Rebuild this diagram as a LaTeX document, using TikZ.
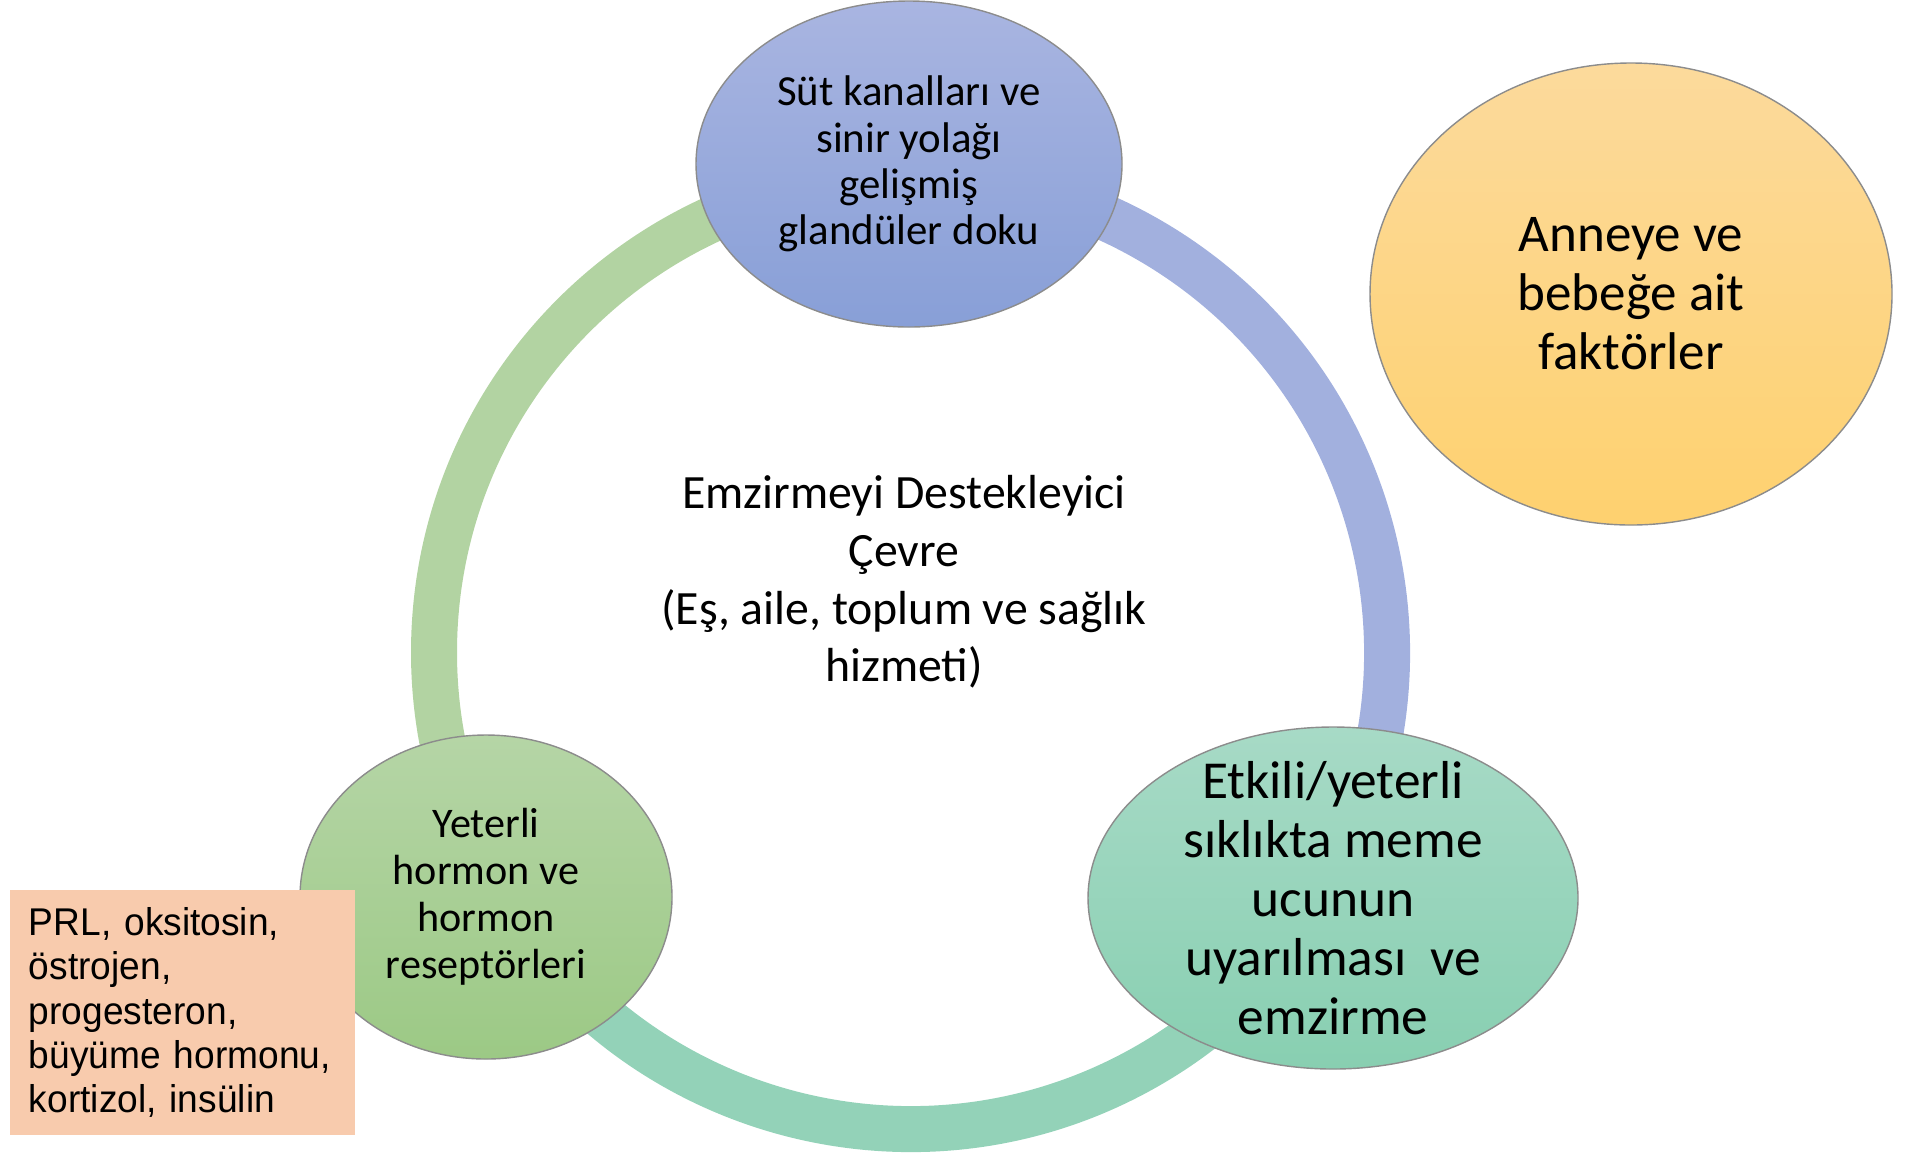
\documentclass[tikz,border=0pt]{standalone}
\usepackage{fontspec}
\setmainfont{Carlito}
\newfontfamily\arialfont[FakeStretch=0.96]{Liberation Sans}
\usepackage{tikz}
\usetikzlibrary{shapes.geometric}
\definecolor{ringgreen}{HTML}{B2D3A2}
\definecolor{ringblue}{HTML}{A2B0DE}
\definecolor{ringteal}{HTML}{93D2B8}
\definecolor{glandtop}{HTML}{A9B5E1}
\definecolor{glandbottom}{HTML}{889FD7}
\definecolor{hormonetop}{HTML}{B5D5A6}
\definecolor{hormonebottom}{HTML}{9CC985}
\definecolor{suckletop}{HTML}{A7DAC6}
\definecolor{sucklebottom}{HTML}{88CFB1}
\definecolor{factortop}{HTML}{FCDA9C}
\definecolor{factorbottom}{HTML}{FED16F}
\definecolor{hormonebox}{HTML}{F8CBAD}
\tikzstyle{cyclering}=[line width=0.46cm]
\tikzstyle{cycleshape}=[ellipse, draw=black!45, line width=0.4pt, inner sep=0pt]
\tikzstyle{glandnode}=[cycleshape, top color=glandtop, bottom color=glandbottom, minimum width=4.26cm, minimum height=3.26cm]
\tikzstyle{hormonenode}=[cycleshape, top color=hormonetop, bottom color=hormonebottom, minimum width=3.72cm, minimum height=3.24cm]
\tikzstyle{sucklenode}=[cycleshape, top color=suckletop, bottom color=sucklebottom, minimum width=4.90cm, minimum height=3.42cm]
\tikzstyle{factornode}=[cycleshape, top color=factortop, bottom color=factorbottom, minimum width=5.22cm, minimum height=4.62cm]
\tikzstyle{smalltext}=[align=center, font=\fontsize{12.2}{13.2}\selectfont]
\tikzstyle{bigtext}=[align=center, font=\fontsize{15.1}{16.8}\selectfont]
\tikzstyle{listbox}=[rectangle, fill=hormonebox, minimum width=3.45cm, minimum height=2.45cm, inner xsep=0.19cm, text width=3.07cm, align=left, font=\arialfont\fontsize{11}{12.6}\selectfont, execute at begin node={\hyphenpenalty=10000}]
\newcommand{\cycleitem}[4]{
	\node[#2] (#1) at (#3) {};
	\node[#4] (#1label) at (#3) {\csname item#1\endcsname};}
\newcommand{\itemgland}{Süt kanalları ve\\sinir yolağı\\gelişmiş\\glandüler doku}
\newcommand{\itemhormone}{Yeterli\\hormon ve\\hormon\\reseptörleri}
\newcommand{\itemsuckle}{Etkili/yeterli\\sıklıkta meme\\ucunun\\uyarılması\ \ ve\\emzirme}
\newcommand{\itemfactor}{Anneye ve\\bebeğe ait\\faktörler}

\begin{document}
\begin{tikzpicture}
\useasboundingbox (0,0) rectangle (19.06,-11.54);
\coordinate (ringc) at (9.105,-6.525);
\draw[cyclering, ringgreen] (ringc) ++(90:4.765) arc[start angle=90, end angle=210, radius=4.765];
\draw[cyclering, ringteal] (ringc) ++(210:4.765) arc[start angle=210, end angle=330, radius=4.765];
\draw[cyclering, ringblue] (ringc) ++(-30:4.765) arc[start angle=-30, end angle=90, radius=4.765];
\node[bigtext, font=\fontsize{13.6}{16.4}\selectfont] (environment) at (9.04,-5.82) {Emzirmeyi Destekleyici\\Çevre\\(Eş, aile, toplum ve sağlık\\hizmeti)};
\cycleitem{gland}{glandnode}{9.09,-1.64}{smalltext}
\cycleitem{suckle}{sucklenode}{13.33,-8.98}{bigtext, font=\fontsize{15.2}{16.8}\selectfont}
\cycleitem{hormone}{hormonenode}{4.86,-8.97}{smalltext, font=\fontsize{12}{13.4}\selectfont}
\cycleitem{factor}{factornode}{16.31,-2.94}{bigtext}
\node[listbox] (hormonelist) at (1.825,-10.125) {PRL, oksitosin,\\östrojen,\\progesteron,\\büyüme hormonu,\\kortizol, insülin};
\end{tikzpicture}
\end{document}
